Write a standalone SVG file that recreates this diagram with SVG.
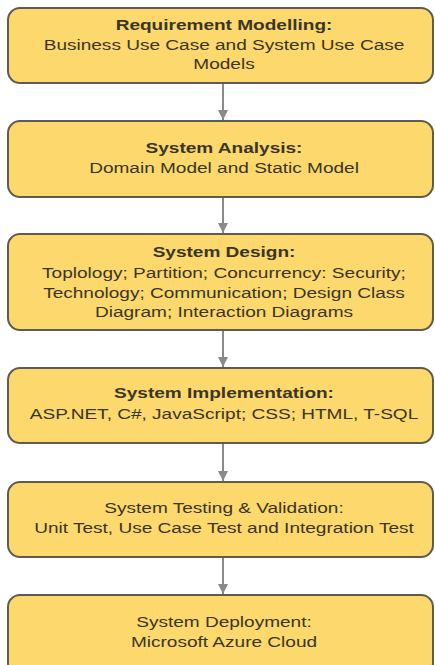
<svg xmlns="http://www.w3.org/2000/svg" width="435" height="665" viewBox="0 0 435 665">
<style>
.box{fill:#fdd86c;stroke:#5e5c52;stroke-width:2}
.t{font-family:"Liberation Sans",Arial,sans-serif;font-size:15px;fill:#3a3626;text-anchor:middle}
.b{font-weight:bold}
.conn{stroke:#8a8a8a;stroke-width:2;fill:none;marker-end:url(#ah)}
</style>
<defs>
<marker id="ah" viewBox="0 0 10 10" refX="10" refY="5" markerWidth="5.5" markerHeight="5" orient="auto" markerUnits="strokeWidth">
<path d="M0,0 L10,5 L0,10 z" fill="#8a8a8a"/>
</marker>
</defs>
<rect width="435" height="665" fill="#ffffff"/>
<g id="connectors">
<line class="conn" x1="223" y1="84" x2="223" y2="120"/>
<line class="conn" x1="223" y1="198" x2="223" y2="233"/>
<line class="conn" x1="223" y1="331" x2="223" y2="367"/>
<line class="conn" x1="223" y1="444" x2="223" y2="481"/>
<line class="conn" x1="223" y1="558" x2="223" y2="594"/>
</g>
<g id="n1">
<rect class="box" x="8" y="8" width="425" height="75" rx="12"/>
<g transform="translate(224,0) scale(1.27,1)">
<text class="t b" x="0" y="30">Requirement Modelling:</text>
<text class="t" x="0" y="50">Business Use Case and System Use Case</text>
<text class="t" x="0" y="69">Models</text>
</g>
</g>
<g id="n2">
<rect class="box" x="8" y="121" width="425" height="76" rx="12"/>
<g transform="translate(224,0) scale(1.27,1)">
<text class="t b" x="0" y="153">System Analysis:</text>
<text class="t" x="0" y="173">Domain Model and Static Model</text>
</g>
</g>
<g id="n3">
<rect class="box" x="8" y="234" width="425" height="96" rx="12"/>
<g transform="translate(224,0) scale(1.27,1)">
<text class="t b" x="0" y="257">System Design:</text>
<text class="t" x="0" y="278">Toplology; Partition; Concurrency: Security;</text>
<text class="t" x="0" y="298">Technology; Communication; Design Class</text>
<text class="t" x="0" y="317">Diagram; Interaction Diagrams</text>
</g>
</g>
<g id="n4">
<rect class="box" x="8" y="368" width="425" height="75" rx="12"/>
<g transform="translate(224,0) scale(1.27,1)">
<text class="t b" x="0" y="398">System Implementation:</text>
<text class="t" x="0" y="419">ASP.NET, C#, JavaScript; CSS; HTML, T-SQL</text>
</g>
</g>
<g id="n5">
<rect class="box" x="8" y="482" width="425" height="75" rx="12"/>
<g transform="translate(224,0) scale(1.27,1)">
<text class="t" x="0" y="513">System Testing &amp; Validation:</text>
<text class="t" x="0" y="533">Unit Test, Use Case Test and Integration Test</text>
</g>
</g>
<g id="n6">
<rect class="box" x="8" y="595" width="425" height="80" rx="12"/>
<g transform="translate(224,0) scale(1.27,1)">
<text class="t" x="0" y="627">System Deployment:</text>
<text class="t" x="0" y="647">Microsoft Azure Cloud</text>
</g>
</g>
</svg>
